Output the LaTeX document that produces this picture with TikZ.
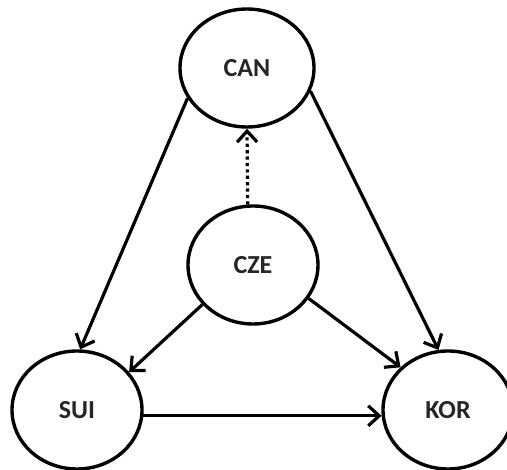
\documentclass[tikz,border=0pt]{standalone}
\usepackage{fontspec}
\setmainfont{Carlito}
\usetikzlibrary{shapes.geometric,arrows.meta}
\begin{document}
\begin{tikzpicture}[x=1pt,y=-1pt,
  country/.style={draw, ellipse, line width=3.4pt, inner sep=0pt,
    minimum width=130pt, minimum height=118pt,
    font=\fontsize{26}{30}\selectfont\bfseries, text=black!85},
  link/.style={line width=3.2pt, -{Straight Barb[length=11pt,width=20pt,line width=3.2pt]}},
  hint/.style={link, dash pattern=on 3.2pt off 3.2pt}]
  \useasboundingbox (0,0) rectangle (507,470);
  % the four teams
  \node[country, minimum width=134pt] (CAN) at (247,68) {CAN};
  \node[country] (CZE) at (253,265) {CZE};
  \node[country] (SUI) at (77,410) {SUI};
  \node[country] (KOR) at (448,410) {KOR};
  % results
  \draw[link] (CAN.207) -- (SUI.87);
  \draw[link] (CAN.340) -- (KOR.99);
  \draw[link] (CZE.218) -- (SUI.36);
  \draw[link] (CZE.329) -- (KOR.138);
  \draw[link] (SUI.-5) -- (KOR.185);
  \draw[hint] (CZE.95) -- (CAN.270);
\end{tikzpicture}
\end{document}
